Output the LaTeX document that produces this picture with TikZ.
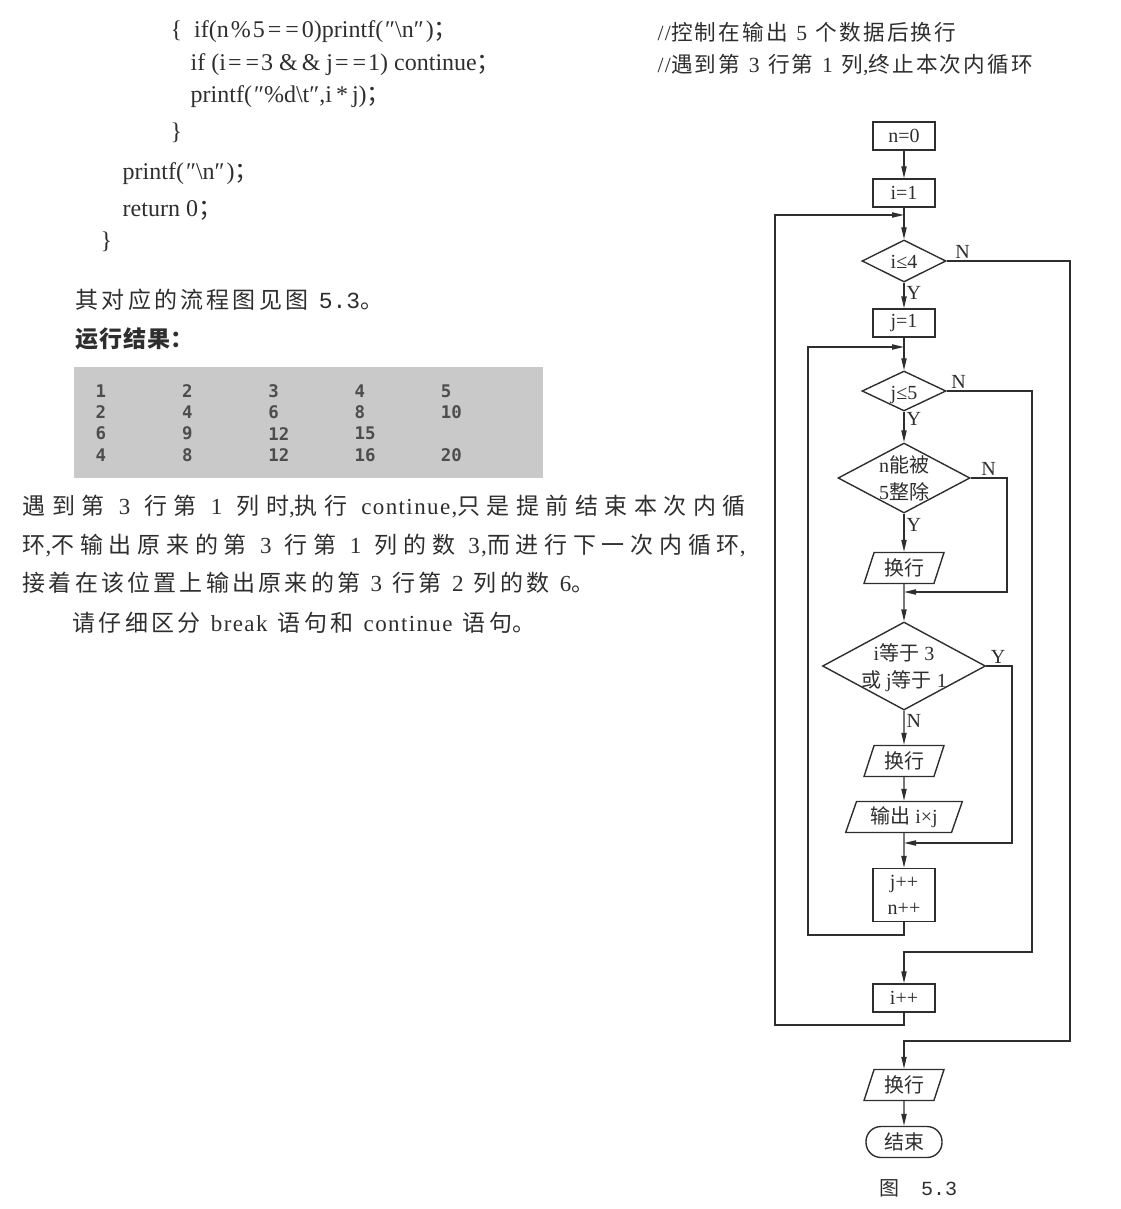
\documentclass[tikz,border=0pt]{standalone}
\usepackage{fontspec}
\setmainfont{Liberation Serif}
\newfontfamily\cjk{Noto Sans CJK SC}
\newfontfamily\latw{Liberation Serif}[LetterSpace=6]
\newfontfamily\monofont{DejaVu Sans Mono}
\newfontfamily\numfont{Liberation Mono}
\usetikzlibrary{shapes.geometric,arrows.meta}
\definecolor{ink}{gray}{0.18}
\definecolor{winbg}{gray}{0.79}
% spacing (and a little stretch) between Han characters
\newdimen\hangap
\hangap=0pt
\XeTeXinterchartokenstate=1
\newXeTeXintercharclass\hanclass
\newcount\hancode
\hancode="4E00
\loop \XeTeXcharclass\hancode=\hanclass \advance\hancode by 1 \ifnum\hancode<"A000 \repeat
\XeTeXinterchartoks\hanclass\hanclass={\hskip\hangap plus 1pt\relax}
\newcommand\zh[1]{{\cjk #1}}
\newcommand\en[1]{{\latw #1}}
\newcommand\just[1]{\makebox[361.5pt][s]{#1}}
% text of a diamond, kept out of the shape's size
\newcommand\zt[1]{\makebox[0pt]{\smash{\raisebox{-3.8pt}{\begin{tabular}{@{}c@{}}#1\end{tabular}}}}}

\begin{document}
\begin{tikzpicture}[x=0.5pt, y=-0.5pt, color=ink, line width=0.7pt,
    box/.style={draw, rectangle, minimum width=31pt, minimum height=14pt, inner sep=0pt, font=\fontsize{10}{13}\selectfont},
    dia/.style={draw, diamond, inner sep=0pt, font=\fontsize{10}{13.5}\selectfont},
    io/.style={draw, trapezium, trapezium left angle=70, trapezium right angle=110, trapezium stretches=true,
        minimum width=40pt, minimum height=15.5pt, inner sep=0pt, font=\fontsize{10}{12}\selectfont},
    term/.style={draw, rectangle, rounded corners=7.5pt, minimum width=38pt, minimum height=15.5pt, inner sep=0pt, font=\fontsize{10}{12}\selectfont},
    arr/.style={-{Triangle[length=6pt,width=2.6pt]}},
    yn/.style={inner sep=1pt, font=\fontsize{10}{12}\selectfont},
    code/.style={anchor=west, inner sep=0pt, font=\fontsize{12}{14}\selectfont},
    note/.style={anchor=west, inner sep=0pt, font={\cjk\fontsize{10.8}{13}\selectfont\hangap 0.1em\spaceskip 0.4em plus 0.1em\relax}},
    body/.style={anchor=west, inner sep=0pt, font={\cjk\fontsize{11.5}{13}\selectfont\hangap 0.14em\spaceskip 0.45em plus 0.1em\relax}},
    cell/.style={anchor=west, inner sep=0pt, text=ink!85, font=\monofont\bfseries\fontsize{8.7}{10}\selectfont}]
    \useasboundingbox (0,0) rectangle (1120,1209);

    % program text
    \node[code] (ln1) at (170,32) {\{\hspace{6pt}if(n\kern1pt\%\kern1pt5\kern1.5pt=\kern2pt=\kern1.5pt0)printf(\kern1pt″\textbackslash n″\kern1pt)\zh{；}};
    \node[code] (ln2) at (190,65) {if (i\kern1pt=\kern2pt=\kern1pt3 \&\kern2pt\& j\kern1pt=\kern2pt=\kern1pt1) continue\zh{；}};
    \node[code] (ln3) at (190,97) {printf(\kern1pt″\%d\textbackslash t″,i\kern2pt*\kern2pt j)\zh{；}};
    \node[code] (ln4) at (170,133) {\}};
    \node[code] (ln5) at (122,174) {printf(\kern1pt″\textbackslash n″\kern1pt)\zh{；}};
    \node[code] (ln6) at (122,210) {return 0\zh{；}};
    \node[code] (ln7) at (100,242) {\}};
    \node[note] (cm1) at (657,32) {\en{//}控制在输出 \en{5} 个数据后换行};
    \node[note] (cm2) at (657,65) {\en{//}遇到第 \en{3} 行第 \en{1} 列\en{,}终止本次内循环};

    \node[body] (t1) at (75,300) {其对应的流程图见图 {\numfont 5.3}。};
    \node[body, font={\cjk\bfseries\fontsize{11.5}{13}\selectfont\hangap 0.04em\relax}] (t2) at (75,339) {运行结果：};

    % output window
    \fill[winbg] (74,367) rectangle (543,478);
    \foreach \row [count=\r] in {{1,2,3,4,5},{2,4,6,8,10},{6,9,12,15},{4,8,12,16,20}}
        \foreach \v [count=\c] in \row
            \node[cell] (v\r\c) at ({95+(\c-1)*86.3},{391+(\r-1)*21.3}) {\v};

    \node[body] (s1) at (22,507) {\just{遇到第 \en{3} 行第 \en{1} 列时\en{,}执行 \en{continue,}只是提前结束本次内循}};
    \node[body] (s2) at (22,546) {\just{环\en{,}不输出原来的第 \en{3} 行第 \en{1} 列的数 \en{3,}而进行下一次内循环\en{,}}};
    \node[body] (s3) at (22,583) {接着在该位置上输出原来的第 \en{3} 行第 \en{2} 列的数 \en{6}。};
    \node[body] (s4) at (72,623) {请仔细区分 \en{break} 语句和 \en{continue} 语句。};

    % flow chart
    \node[box] (n0) at (904,136) {n=0};
    \node[box] (i1) at (904,193) {i=1};
    \node[dia, minimum width=42pt, minimum height=21pt] (d1) at (904,261) {\zt{i≤4}};
    \node[box] (j1) at (904,323) {j=1};
    \node[dia, minimum width=42pt, minimum height=20pt] (d2) at (904,391) {\zt{j≤5}};
    \node[dia, minimum width=66pt, minimum height=35pt] (d3) at (904,478) {\zt{n\zh{能被}\\5\zh{整除}}};
    \node[io] (p1) at (904,568) {\zh{换行}};
    \node[dia, minimum width=81.5pt, minimum height=44pt] (d4) at (904,666) {\zt{i\zh{等于} 3\\\zh{或} j\zh{等于} 1}};
    \node[io] (p2) at (904,761) {\zh{换行}};
    \node[io, minimum width=58.5pt] (p3) at (904,817) {\zh{输出} i×j};
    \node[box, minimum height=26.5pt, align=center] (b1) at (904,895) {j++\\n++};
    \node[box] (b2) at (904,998) {i++};
    \node[io] (p4) at (904,1085) {\zh{换行}};
    \node[term] (e1) at (904,1142) {\zh{结束}};
    \node[font=\fontsize{10}{12}\selectfont] (cap) at (918,1188) {\zh{图}\hspace{1.1em}{\numfont 5.3}};

    \coordinate (m1) at (904,215);
    \coordinate (m2) at (904,347);
    \coordinate (m3) at (904,592);
    \coordinate (m4) at (904,843);

    \draw[arr] (n0) -- (i1);
    \draw[arr] (i1) -- (d1);
    \draw[arr] (d1) -- node[yn, right, pos=.4] {Y} (j1);
    \draw[arr] (j1) -- (d2);
    \draw[arr] (d2) -- node[yn, right, pos=.25] {Y} (d3);
    \draw[arr] (d3) -- node[yn, right, pos=.3] {Y} (p1);
    \draw[arr] (p1) -- (d4);
    \draw[arr] (d4) -- node[yn, right, pos=.3] {N} (p2);
    \draw[arr] (p2) -- (p3);
    \draw[arr] (p3) -- (b1);
    \draw[arr] (d1.east) node[yn, anchor=south west, xshift=3pt] {N} -| (1070,1041) -| (p4);
    \draw[arr] (d2.east) node[yn, anchor=south west, xshift=1pt] {N} -| (1032,952) -| (b2);
    \draw[arr] (d3.east) node[yn, anchor=south west, xshift=4pt] {N} -| (1007,592) -- (m3);
    \draw[arr] (d4.east) node[yn, anchor=south west, xshift=1pt] {Y} -| (1012,843) -- (m4);
    \draw[arr] (b1) |- (808,935) |- (m2);
    \draw[arr] (b2) |- (775,1025) |- (m1);
    \draw[arr] (p4) -- (e1);
\end{tikzpicture}
\end{document}
